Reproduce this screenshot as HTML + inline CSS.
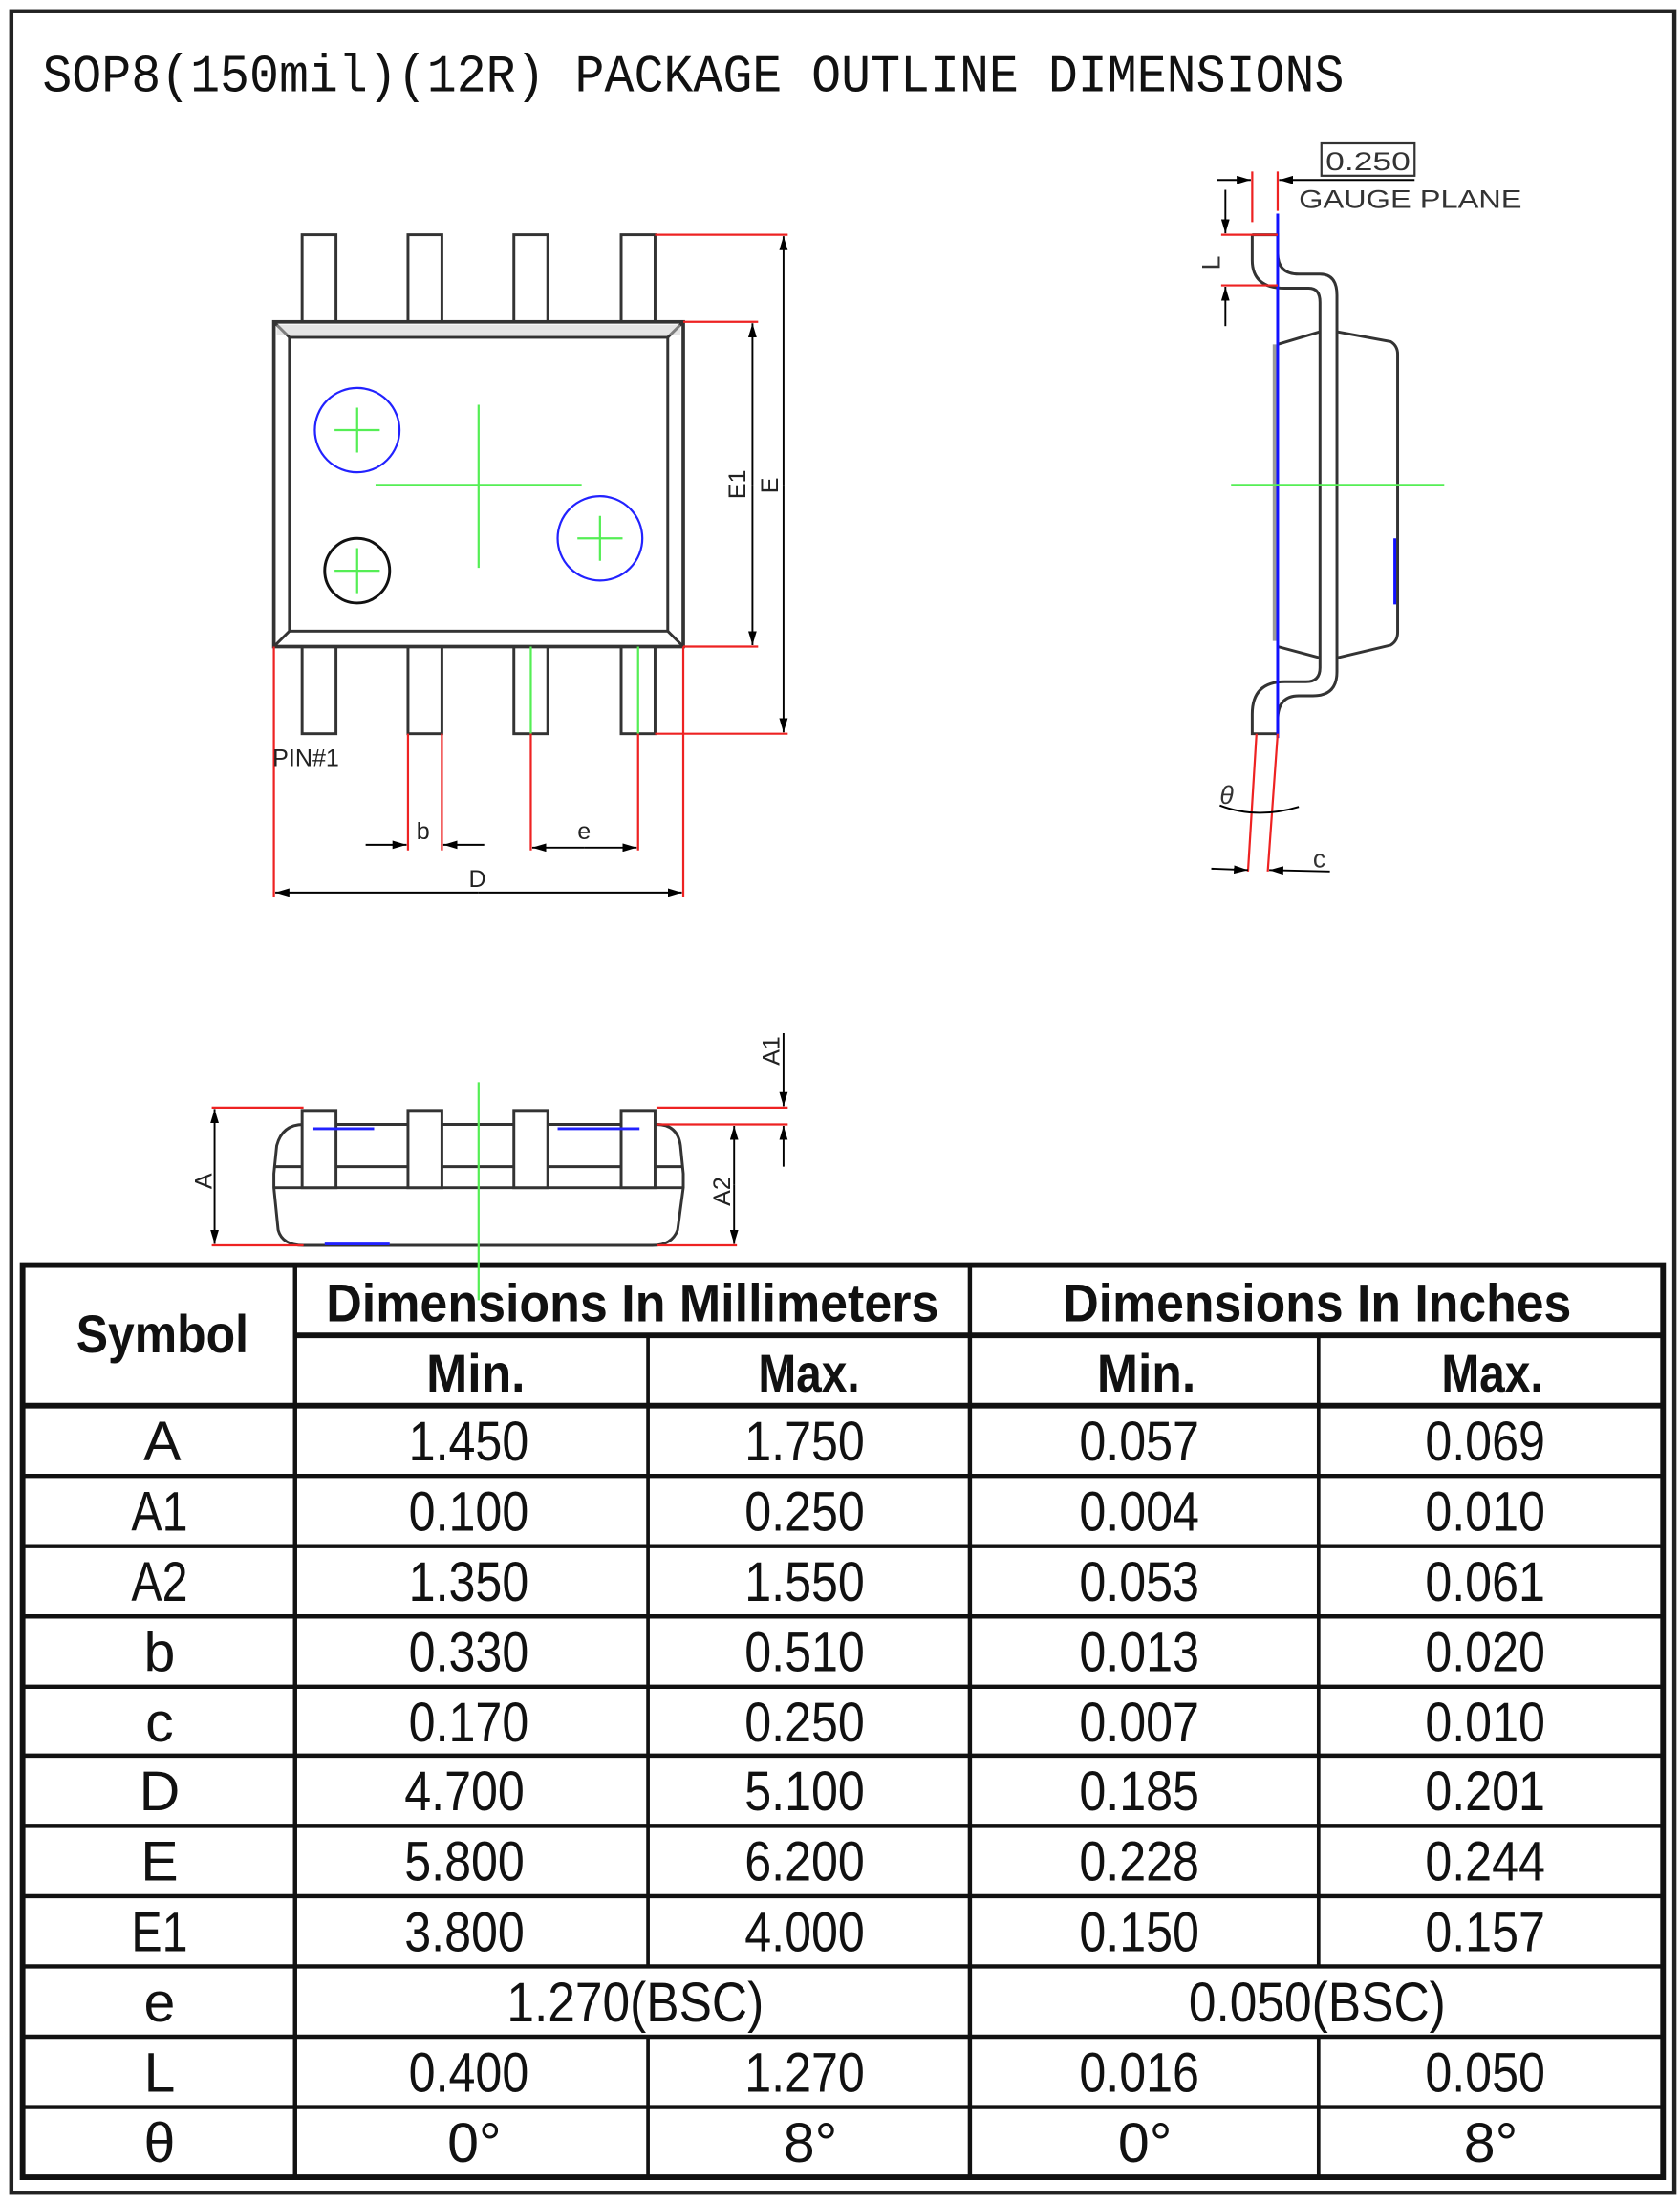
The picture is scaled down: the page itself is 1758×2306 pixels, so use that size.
<!DOCTYPE html>
<html><head><meta charset="utf-8"><style>
html,body{margin:0;padding:0;background:#fff;}
svg{display:block;}
.t{font-family:"Liberation Sans",sans-serif;}
.d{font-family:"Liberation Sans",sans-serif;font-size:40px;text-anchor:middle;fill:#111;}
.h{font-family:"Liberation Sans",sans-serif;font-size:38px;font-weight:bold;text-anchor:middle;fill:#111;}
</style></head><body>
<svg width="1758" height="2306" viewBox="0 0 1190 1568" preserveAspectRatio="none" xmlns="http://www.w3.org/2000/svg">
<defs>
<marker id="ar" markerWidth="10" markerHeight="6" refX="10" refY="3" orient="auto" markerUnits="userSpaceOnUse"><path d="M0,0 L10,3 L0,6 z" fill="#000"/></marker>
</defs>
<rect x="0" y="0" width="1190" height="1568" fill="#fff"/>
<rect x="8" y="8" width="1178" height="1552" fill="none" stroke="#222" stroke-width="3"/>
<text x="30" y="65" font-family="Liberation Mono,monospace" font-size="38" fill="#111" textLength="922" lengthAdjust="spacingAndGlyphs">SOP8(150mil)(12R) PACKAGE OUTLINE DIMENSIONS</text>

<!-- TOP VIEW -->
<g fill="none" stroke="#333" stroke-width="2">
<rect x="214" y="167" width="24" height="62"/><rect x="289" y="167" width="24" height="62"/><rect x="364" y="167" width="24" height="62"/><rect x="440" y="167" width="24" height="62"/>
<rect x="214" y="460" width="24" height="62"/><rect x="289" y="460" width="24" height="62"/><rect x="364" y="460" width="24" height="62"/><rect x="440" y="460" width="24" height="62"/>
<rect x="194" y="229" width="290" height="231" fill="#fff" stroke-width="2.5"/>
<rect x="205" y="240" width="268" height="209"/>
<path d="M194,229 L205,240 M484,229 L473,240 M194,460 L205,449 M484,460 L473,449"/>
<circle cx="253" cy="406" r="23" stroke="#111"/>
</g>
<rect x="196" y="231" width="286" height="7" fill="#ccc" opacity="0.5"/>
<circle cx="253" cy="306" r="30" fill="none" stroke="#22f" stroke-width="1.5"/>
<circle cx="425" cy="383" r="30" fill="none" stroke="#22f" stroke-width="1.5"/>
<g stroke="#5e5" stroke-width="1.5">
<path d="M237,306 H269 M253,290 V322 M237,406 H269 M253,390 V422 M409,383 H441 M425,367 V399"/>
<path d="M266,345 H412 M339,288 V404"/>
<path d="M376,460 V522 M452,460 V522"/>
</g>
<g stroke="#e22" stroke-width="1.5">
<path d="M464,167 H558 M484,229 H537 M484,460 H537 M464,522 H558"/>
<path d="M194,460 V638 M484,460 V638 M289,522 V605 M313,522 V605 M376,522 V605 M452,522 V605"/>
</g>
<g stroke="#000" stroke-width="1.3">
<line x1="555" y1="345" x2="555" y2="168" marker-end="url(#ar)"/><line x1="555" y1="345" x2="555" y2="521" marker-end="url(#ar)"/>
<line x1="533" y1="345" x2="533" y2="230" marker-end="url(#ar)"/><line x1="533" y1="345" x2="533" y2="459" marker-end="url(#ar)"/>
<line x1="259" y1="601" x2="288" y2="601" marker-end="url(#ar)"/><line x1="343" y1="601" x2="314" y2="601" marker-end="url(#ar)"/>
<line x1="414" y1="603" x2="377" y2="603" marker-end="url(#ar)"/><line x1="414" y1="603" x2="451" y2="603" marker-end="url(#ar)"/>
<line x1="339" y1="635" x2="195" y2="635" marker-end="url(#ar)"/><line x1="339" y1="635" x2="483" y2="635" marker-end="url(#ar)"/>
</g>
<g class="t" font-size="17" fill="#222">
<text x="193" y="545">PIN#1</text>
<text x="295" y="597">b</text><text x="409" y="597">e</text><text x="332" y="631">D</text>
<text transform="translate(528,355) rotate(-90)">E1</text>
<text transform="translate(551,351) rotate(-90)">E</text>
</g>

<!-- SIDE VIEW -->
<g fill="none" stroke="#333" stroke-width="2">
<path d="M887,167 V185 Q887,205 910,205 H927 Q935,205 935,215 V475 Q935,485 925,485 H910 Q887,485 887,508 V522 H905"/>
<path d="M887,167 H905 V180 Q905,195 920,195 H935 Q947,195 947,210 V478 Q947,495 930,495 H920 Q905,495 905,512 V522"/>
<path d="M905,245 L935,236 M947,236 L985,243 Q990,246 990,252 V450 Q990,456 985,459 L947,468 M935,468 L905,460"/>
<path d="M903,245 V456" stroke="#999" stroke-width="3"/>
</g>
<path d="M905,152 V525" stroke="#11f" stroke-width="2"/>
<path d="M988,383 V430" stroke="#11f" stroke-width="2"/>
<path d="M872,345 H1023" stroke="#5e5" stroke-width="1.5"/>
<g stroke="#e22" stroke-width="1.5">
<path d="M887,122 V158 M905,122 V150 M865,167 H905 M865,203 H905"/>
<path d="M890,522 L884,620 M905,522 L898,620"/>
</g>
<g stroke="#000" stroke-width="1.3" fill="none">
<line x1="862" y1="128" x2="886" y2="128" marker-end="url(#ar)"/><line x1="1002" y1="128" x2="906" y2="128" marker-end="url(#ar)"/>
<line x1="868" y1="135" x2="868" y2="166" marker-end="url(#ar)"/><line x1="868" y1="232" x2="868" y2="204" marker-end="url(#ar)"/>
<path d="M864,573 Q890,583 920,574"/>
<line x1="858" y1="618" x2="884" y2="619" marker-end="url(#ar)"/><line x1="942" y1="620" x2="899" y2="619" marker-end="url(#ar)"/>
</g>
<rect x="936" y="102" width="66" height="23" fill="none" stroke="#333" stroke-width="1.5"/>
<g class="t" font-size="18" fill="#333">
<text x="939" y="121" textLength="60" lengthAdjust="spacingAndGlyphs">0.250</text>
<text x="920" y="148" textLength="158" lengthAdjust="spacingAndGlyphs">GAUGE  PLANE</text>
<text transform="translate(864,192) rotate(-90)">L</text>
<text x="864" y="572" font-style="italic">θ</text>
<text x="930" y="617">c</text>
</g>

<!-- FRONT VIEW -->
<g fill="none" stroke="#333" stroke-width="2">
<path d="M215,800 H465 Q480,800 482,815 L484,835 V845 L480,875 Q476,886 462,886 H215 Q200,886 197,875 L194,845 V835 L196,815 Q200,800 215,800 Z" fill="#fff"/>
<path d="M194,830 H484 M194,845 H484"/>
<rect x="214" y="790" width="24" height="55" fill="#fff"/><rect x="289" y="790" width="24" height="55" fill="#fff"/><rect x="364" y="790" width="24" height="55" fill="#fff"/><rect x="440" y="790" width="24" height="55" fill="#fff"/>
</g>
<g stroke="#22f" stroke-width="2"><path d="M222,803 H265 M395,803 H453 M230,885 H276"/></g>
<g stroke="#e22" stroke-width="1.5"><path d="M150,788 H215 M465,788 H558 M465,800 H558 M150,886 H215 M465,886 H522"/></g>
<g stroke="#000" stroke-width="1.3">
<line x1="152" y1="838" x2="152" y2="789" marker-end="url(#ar)"/><line x1="152" y1="838" x2="152" y2="885" marker-end="url(#ar)"/>
<line x1="555" y1="735" x2="555" y2="787" marker-end="url(#ar)"/><line x1="555" y1="830" x2="555" y2="801" marker-end="url(#ar)"/>
<line x1="520" y1="843" x2="520" y2="801" marker-end="url(#ar)"/><line x1="520" y1="843" x2="520" y2="885" marker-end="url(#ar)"/>
</g>
<g class="t" font-size="17" fill="#222">
<text transform="translate(150,846) rotate(-90)">A</text>
<text transform="translate(552,758) rotate(-90)">A1</text>
<text transform="translate(517,858) rotate(-90)">A2</text>
</g>

<!-- TABLE -->
<g stroke="#111" fill="none">
<rect x="16" y="900" width="1162" height="649" stroke-width="4"/>
<path d="M209,950 H1178" stroke-width="4"/>
<path d="M16,1000 H1178" stroke-width="4"/>
<path d="M16,1050 H1178 M16,1100 H1178 M16,1150 H1178 M16,1200 H1178 M16,1249 H1178 M16,1299 H1178 M16,1349 H1178 M16,1399 H1178 M16,1449 H1178 M16,1499 H1178" stroke-width="3"/>
<path d="M209,900 V1549 M687,900 V1549" stroke-width="3"/>
<path d="M459,950 V1399 M934,950 V1399 M459,1449 V1549 M934,1449 V1549" stroke-width="2.5"/>
</g>
<path d="M339,770 V925" stroke="#5e5" stroke-width="1.5"/>
<text class="h" x="448" y="940" textLength="434" lengthAdjust="spacingAndGlyphs">Dimensions In Millimeters</text>
<text class="h" x="933" y="940" textLength="360" lengthAdjust="spacingAndGlyphs">Dimensions In Inches</text>
<text class="h" x="115" y="962" textLength="122" lengthAdjust="spacingAndGlyphs">Symbol</text>
<text class="h" x="337" y="990" textLength="70" lengthAdjust="spacingAndGlyphs">Min.</text>
<text class="h" x="573" y="990" textLength="72" lengthAdjust="spacingAndGlyphs">Max.</text>
<text class="h" x="812" y="990" textLength="70" lengthAdjust="spacingAndGlyphs">Min.</text>
<text class="h" x="1057" y="990" textLength="72" lengthAdjust="spacingAndGlyphs">Max.</text>
<g class="d">
<text x="115" y="1039">A</text><text x="332" y="1039" textLength="85" lengthAdjust="spacingAndGlyphs">1.450</text><text x="570" y="1039" textLength="85" lengthAdjust="spacingAndGlyphs">1.750</text><text x="807" y="1039" textLength="85" lengthAdjust="spacingAndGlyphs">0.057</text><text x="1052" y="1039" textLength="85" lengthAdjust="spacingAndGlyphs">0.069</text>
<text x="113" y="1089" textLength="40" lengthAdjust="spacingAndGlyphs">A1</text><text x="332" y="1089" textLength="85" lengthAdjust="spacingAndGlyphs">0.100</text><text x="570" y="1089" textLength="85" lengthAdjust="spacingAndGlyphs">0.250</text><text x="807" y="1089" textLength="85" lengthAdjust="spacingAndGlyphs">0.004</text><text x="1052" y="1089" textLength="85" lengthAdjust="spacingAndGlyphs">0.010</text>
<text x="113" y="1139" textLength="40" lengthAdjust="spacingAndGlyphs">A2</text><text x="332" y="1139" textLength="85" lengthAdjust="spacingAndGlyphs">1.350</text><text x="570" y="1139" textLength="85" lengthAdjust="spacingAndGlyphs">1.550</text><text x="807" y="1139" textLength="85" lengthAdjust="spacingAndGlyphs">0.053</text><text x="1052" y="1139" textLength="85" lengthAdjust="spacingAndGlyphs">0.061</text>
<text x="113" y="1189">b</text><text x="332" y="1189" textLength="85" lengthAdjust="spacingAndGlyphs">0.330</text><text x="570" y="1189" textLength="85" lengthAdjust="spacingAndGlyphs">0.510</text><text x="807" y="1189" textLength="85" lengthAdjust="spacingAndGlyphs">0.013</text><text x="1052" y="1189" textLength="85" lengthAdjust="spacingAndGlyphs">0.020</text>
<text x="113" y="1239">c</text><text x="332" y="1239" textLength="85" lengthAdjust="spacingAndGlyphs">0.170</text><text x="570" y="1239" textLength="85" lengthAdjust="spacingAndGlyphs">0.250</text><text x="807" y="1239" textLength="85" lengthAdjust="spacingAndGlyphs">0.007</text><text x="1052" y="1239" textLength="85" lengthAdjust="spacingAndGlyphs">0.010</text>
<text x="113" y="1288">D</text><text x="329" y="1288" textLength="85" lengthAdjust="spacingAndGlyphs">4.700</text><text x="570" y="1288" textLength="85" lengthAdjust="spacingAndGlyphs">5.100</text><text x="807" y="1288" textLength="85" lengthAdjust="spacingAndGlyphs">0.185</text><text x="1052" y="1288" textLength="85" lengthAdjust="spacingAndGlyphs">0.201</text>
<text x="113" y="1338">E</text><text x="329" y="1338" textLength="85" lengthAdjust="spacingAndGlyphs">5.800</text><text x="570" y="1338" textLength="85" lengthAdjust="spacingAndGlyphs">6.200</text><text x="807" y="1338" textLength="85" lengthAdjust="spacingAndGlyphs">0.228</text><text x="1052" y="1338" textLength="85" lengthAdjust="spacingAndGlyphs">0.244</text>
<text x="113" y="1388" textLength="40" lengthAdjust="spacingAndGlyphs">E1</text><text x="329" y="1388" textLength="85" lengthAdjust="spacingAndGlyphs">3.800</text><text x="570" y="1388" textLength="85" lengthAdjust="spacingAndGlyphs">4.000</text><text x="807" y="1388" textLength="85" lengthAdjust="spacingAndGlyphs">0.150</text><text x="1052" y="1388" textLength="85" lengthAdjust="spacingAndGlyphs">0.157</text>
<text x="113" y="1438">e</text><text x="450" y="1438" textLength="182" lengthAdjust="spacingAndGlyphs">1.270(BSC)</text><text x="933" y="1438" textLength="182" lengthAdjust="spacingAndGlyphs">0.050(BSC)</text>
<text x="113" y="1488">L</text><text x="332" y="1488" textLength="85" lengthAdjust="spacingAndGlyphs">0.400</text><text x="570" y="1488" textLength="85" lengthAdjust="spacingAndGlyphs">1.270</text><text x="807" y="1488" textLength="85" lengthAdjust="spacingAndGlyphs">0.016</text><text x="1052" y="1488" textLength="85" lengthAdjust="spacingAndGlyphs">0.050</text>
<text x="113" y="1538">θ</text><text x="336" y="1538">0°</text><text x="574" y="1538">8°</text><text x="811" y="1538">0°</text><text x="1056" y="1538">8°</text>
</g>
</svg>
</body></html>
